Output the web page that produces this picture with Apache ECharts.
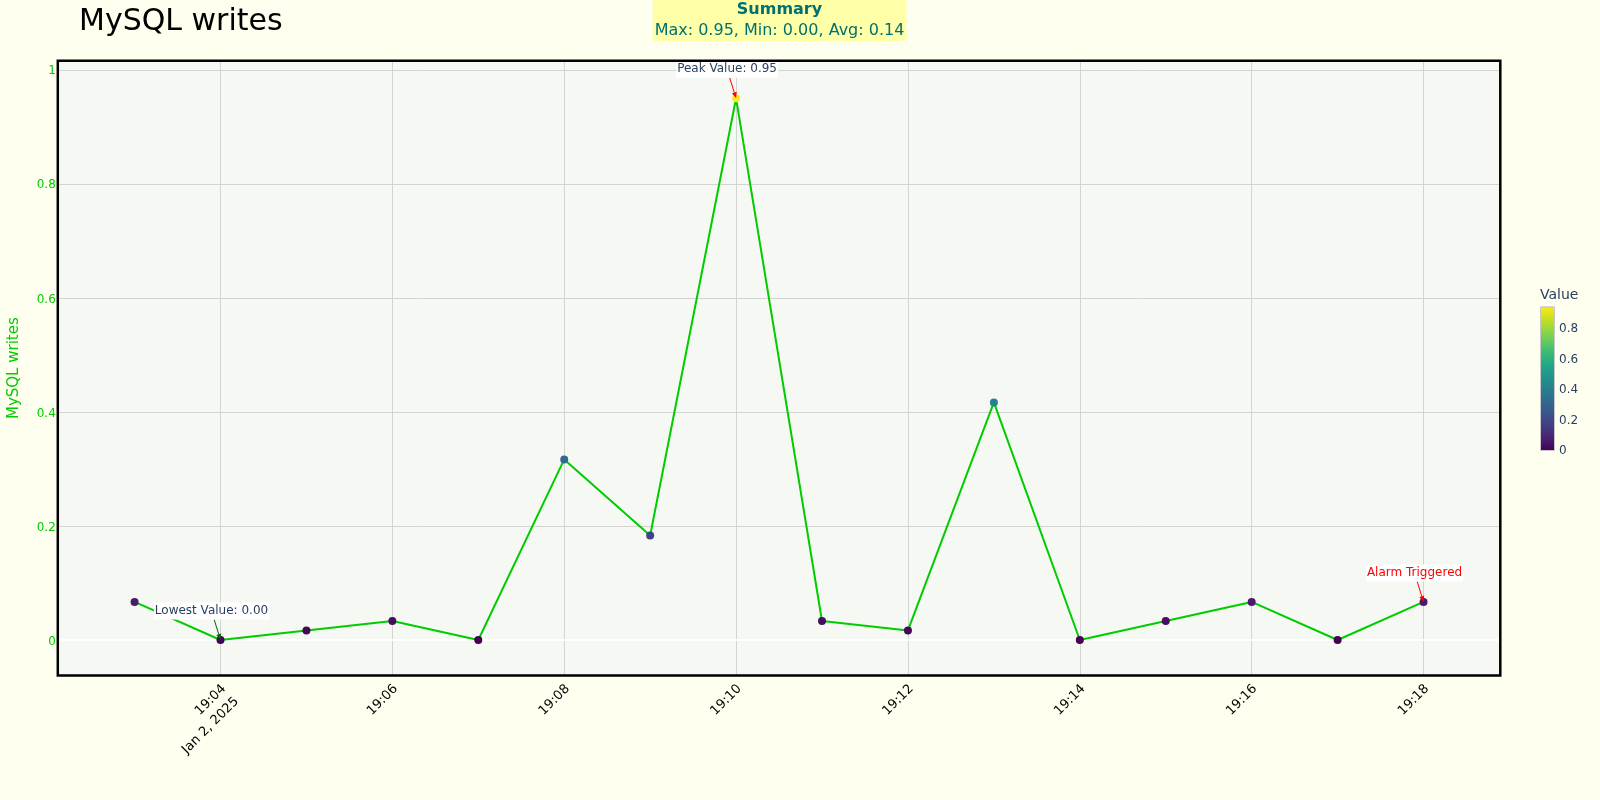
<!DOCTYPE html>
<html><head><meta charset="utf-8">
<script src="https://cdn.jsdelivr.net/npm/echarts@6/dist/echarts.min.js"></script>
<style>html,body{margin:0;padding:0;background:#fffff0}#c{width:1600px;height:800px}</style>
</head><body><div id="c"></div>
<script>
// ---- data ----
const chartTitle = 'MySQL writes';
const dateLabel = 'Jan 2, 2025';
const times = ['19:03','19:04','19:05','19:06','19:07','19:08','19:09','19:10','19:11','19:12','19:13','19:14','19:15','19:16','19:17','19:18'];
const values = [0.0667,0,0.0167,0.0333,0,0.3167,0.1833,0.95,0.0333,0.0167,0.4167,0,0.0333,0.0667,0,0.0667];
const colorbarTitle = 'Value';
const annotations = [
  {time:'19:10', value:0.95, text:'Peak Value: 0.95', textColor:'#2a3f5f', arrowColor:'#ff0000'},
  {time:'19:04', value:0, text:'Lowest Value: 0.00', textColor:'#2a3f5f', arrowColor:'#006400'},
  {time:'19:18', value:0.0667, text:'Alarm Triggered', textColor:'#ff0000', arrowColor:'#ff0000'}
];
const viridis = ['#440154','#48186a','#472d7b','#424086','#3b528b','#33638d','#2c728e','#26828e','#21918c','#1fa088','#28ae80','#3fbc73','#5ec962','#84d44b','#addc30','#d8e219','#fde725'];

// ---- helpers ----
function toMs(hm){ const p = hm.split(':').map(Number); return Date.UTC(2025,0,2,p[0],p[1]); }
const data = times.map((t,i)=>[toMs(t), values[i]]);
const vMax = Math.max(...values), vMin = Math.min(...values);
const vAvg = values.reduce((a,b)=>a+b,0)/values.length;
const padMs = 53600;
const xMin = toMs(times[0]) - padMs, xMax = toMs(times[times.length-1]) + padMs;
const stepMs = 120000;
const firstTick = Math.ceil(xMin/stepMs)*stepMs;
const green = '#00cc00';
const gridColor = '#d3d3d3';
const FONT = '"DejaVu Sans", sans-serif';

const chart = echarts.init(document.getElementById('c'), null, {renderer:'canvas'});
const option = {
  animation: false,
  backgroundColor: '#fffff0',
  textStyle: {fontFamily: FONT},
  title: {text: chartTitle, left: 79, top: 7, padding: 0,
    textStyle: {fontSize: 30, fontWeight: 'normal', color: '#000', fontFamily: FONT}},
  grid: [
    {left: 57.8, right: 99.7, top: 60.8, bottom: 124.5, show: true, backgroundColor: '#f6f8f3', borderWidth: 0, containLabel: false, outerBoundsMode: 'none'},
    {left: 1540, width: 15, top: 306.5, height: 144.5, show: false, containLabel: false, outerBoundsMode: 'none'}
  ],
  xAxis: [
    {type: 'value', gridIndex: 0, min: xMin, max: xMax, minInterval: stepMs, maxInterval: stepMs,
     axisLine: {show: false}, axisTick: {show: false},
     splitLine: {show: true, showMinLine: false, showMaxLine: false, lineStyle: {color: gridColor, width: 1}},
     axisLabel: {rotate: 45, color: '#000', fontSize: 13, fontFamily: FONT, verticalAlign: 'top', lineHeight: 18,
       padding: [0,4.2,0,0], margin: 2, showMinLabel: false, showMaxLabel: false,
       formatter: function(v){
         const s = echarts.time.format(v, '{HH}:{mm}', true);
         return Math.abs(v - firstTick) < 1 ? s + '\n' + dateLabel : s;
       }}},
    {type: 'category', gridIndex: 1, data: ['c'], show: false}
  ],
  yAxis: [
    {type: 'value', gridIndex: 0, min: -0.0623, max: 1.0158, minInterval: 0.2, maxInterval: 0.2,
     axisLine: {show: false}, axisTick: {show: false},
     splitLine: {show: true, showMinLine: false, showMaxLine: false, lineStyle: {color: gridColor, width: 1}},
     axisLabel: {color: green, fontSize: 12, margin: 2, verticalAlign: 'top', lineHeight: 3, showMinLabel: false, showMaxLabel: false},
     name: chartTitle, nameLocation: 'middle', nameGap: 36, nameRotate: 90,
     nameTextStyle: {color: green, fontSize: 15, fontFamily: FONT}},
    {type: 'value', gridIndex: 1, min: 0, max: vMax, interval: 0.2, position: 'right',
     axisLine: {show: false}, axisTick: {show: false}, splitLine: {show: false},
     axisLabel: {color: '#2a3f5f', fontSize: 12, margin: 4, showMaxLabel: false}}
  ],
  visualMap: [{type: 'continuous', show: false, seriesIndex: 2, dimension: 1, min: 0, max: vMax, inRange: {color: viridis}}],
  series: [
    {type: 'line', name: 'zero', data: data, xAxisIndex: 0, yAxisIndex: 0, z: 1, showSymbol: false, symbol: 'none',
     lineStyle: {opacity: 0}, silent: true,
     markLine: {silent: true, z: 1, symbol: 'none', label: {show: false}, lineStyle: {color: '#ffffff', width: 2, type: 'solid'},
       data: [{yAxis: 0}]}},
    {type: 'line', name: 'writes', data: data, xAxisIndex: 0, yAxisIndex: 0, z: 2, showSymbol: false, symbol: 'none',
     lineStyle: {color: green, width: 2}},
    {type: 'scatter', name: 'pts', data: data, xAxisIndex: 0, yAxisIndex: 0, z: 3, symbolSize: 8, itemStyle: {opacity: 1}},
    {type: 'bar', name: 'cbar', data: [vMax], xAxisIndex: 1, yAxisIndex: 1, barWidth: '100%', silent: true,
     itemStyle: {borderColor: '#c8c8c8', borderWidth: 1,
       color: {type: 'linear', x: 0, y: 1, x2: 0, y2: 0,
         colorStops: viridis.map((c,i)=>({offset: i/(viridis.length-1), color: c}))}}}
  ]
};
chart.setOption(option);

// overlays: plot frame, summary, colorbar title, annotations
const gfx = [];
gfx.push({type: 'rect', z: 100, silent: true, shape: {x: 57.8, y: 60.8, width: 1442.5, height: 614.7},
  style: {fill: 'none', stroke: '#000', lineWidth: 2.5}});
gfx.push({type: 'text', z: 100, silent: true, style: {
  x: 779.5, y: 0, align: 'center', verticalAlign: 'top',
  text: '{b|Summary}\n{n|Max: ' + vMax.toFixed(2) + ', Min: ' + vMin.toFixed(2) + ', Avg: ' + vAvg.toFixed(2) + '}',
  rich: {b: {fontWeight: 'bold', fontSize: 16, lineHeight: 20, fill: '#007070', fontFamily: FONT, align: 'center'},
         n: {fontSize: 16, lineHeight: 21, fill: '#007070', fontFamily: FONT, align: 'center'}},
  backgroundColor: '#ffffa8', padding: [0,2,0,2]}});
gfx.push({type: 'text', z: 100, silent: true, style: {x: 1540, y: 295, text: colorbarTitle, align: 'left', verticalAlign: 'middle',
  fill: '#2a3f5f', fontSize: 14, fontFamily: FONT}});
const annOffset = [-9, -29];
annotations.forEach(a => {
  const p = chart.convertToPixel({gridIndex: 0}, [toMs(a.time), a.value]);
  const cx = p[0] + annOffset[0], cy = p[1] + annOffset[1];
  gfx.push({type: 'text', z: 60, silent: true, style: {x: cx, y: cy, text: a.text, align: 'center', verticalAlign: 'middle',
    fill: a.textColor, fontSize: 12, fontFamily: FONT, lineHeight: 15, backgroundColor: '#ffffff', padding: [1,1,1,1]}});
  const dx = p[0]-cx, dy = p[1]-cy, len = Math.hypot(dx, dy), ux = dx/len, uy = dy/len;
  const t = 8.5/Math.abs(uy);
  const sx = cx + ux*t, sy = cy + uy*t;
  const head = 6, hw = 2.5;
  const bx = p[0]-ux*head, by = p[1]-uy*head;
  gfx.push({type: 'line', z: 59, silent: true, shape: {x1: sx, y1: sy, x2: bx, y2: by}, style: {stroke: a.arrowColor, lineWidth: 1}});
  gfx.push({type: 'polygon', z: 59, silent: true, shape: {points: [[p[0], p[1]], [bx - uy*hw, by + ux*hw], [bx + uy*hw, by - ux*hw]]},
    style: {fill: a.arrowColor}});
});
chart.setOption({graphic: gfx});
</script></body></html>
